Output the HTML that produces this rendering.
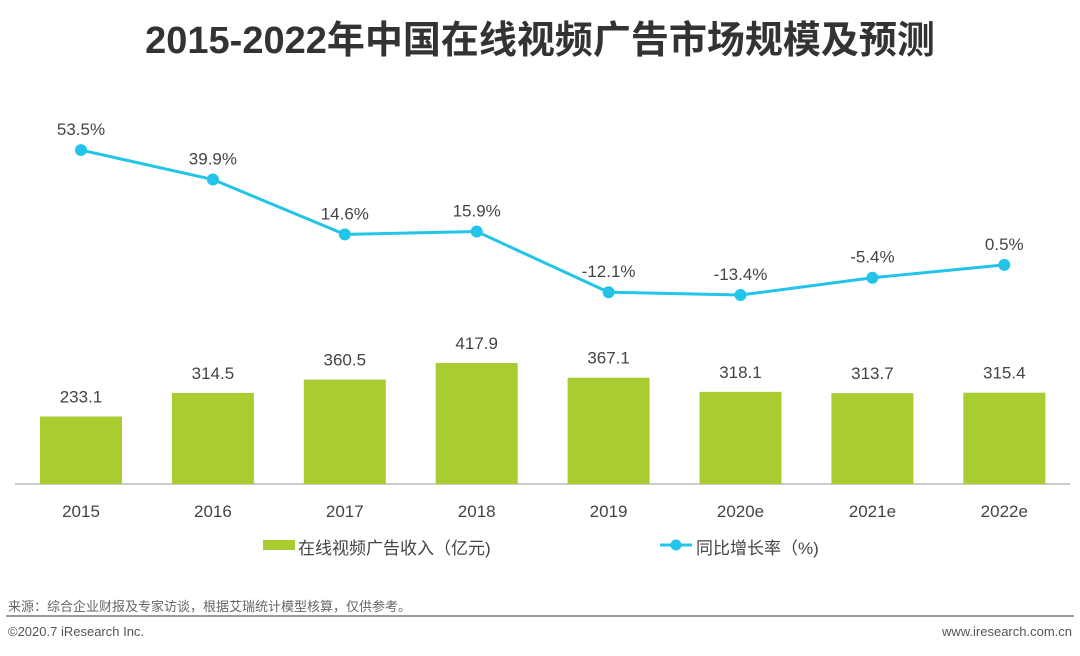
<!DOCTYPE html>
<html><head><meta charset="utf-8">
<style>
body{margin:0;background:#fff;width:1080px;height:651px;overflow:hidden;font-family:"Liberation Sans","Noto Sans CJK SC",sans-serif;}
</style></head><body>
<svg id="c" width="1080" height="651" xmlns="http://www.w3.org/2000/svg" font-family="Liberation Sans, Noto Sans CJK SC, sans-serif">
<text x="540" y="53" text-anchor="middle" font-size="38" font-weight="bold" fill="#333">2015-2022年中国在线视频广告市场规模及预测</text>
<line x1="15" y1="484" x2="1070" y2="484" stroke="#bbb" stroke-width="1.5"/>
<g id="bars"></g><g id="line"></g><g id="xt"></g>
<g>
<rect x="263" y="540" width="32" height="10" fill="#aacc33"/>
<text x="298" y="554" font-size="17" fill="#444">在线视频广告收入（亿元)</text></g>
<g>
<line x1="660" y1="545" x2="692" y2="545" stroke="#22c4e8" stroke-width="3"/>
<circle cx="676" cy="545" r="5.5" fill="#22c4e8"/>
<text x="696" y="554" font-size="17" fill="#444">同比增长率（%)</text></g>
<text x="8" y="611" font-size="13" fill="#666">来源：综合企业财报及专家访谈，根据艾瑞统计模型核算，仅供参考。</text>
<line x1="6" y1="616" x2="1074" y2="616" stroke="#999" stroke-width="2"/>
<text x="8" y="636" font-size="13" fill="#555">©2020.7 iResearch Inc.</text>
<text x="1072" y="636" text-anchor="end" font-size="13" fill="#555">www.iresearch.com.cn</text>
</svg>
<script>
const categories=["2015","2016","2017","2018","2019","2020e","2021e","2022e"];
const revenue=[233.1,314.5,360.5,417.9,367.1,318.1,313.7,315.4];
const growth=[53.5,39.9,14.6,15.9,-12.1,-13.4,-5.4,0.5];
const NS="http://www.w3.org/2000/svg";
const xc=i=>81+i*131.9;
const yb=v=>484-v*0.2896;
const yl=v=>266-v*2.167;
function mk(t,a,p){const e=document.createElementNS(NS,t);for(const k in a)e.setAttribute(k,a[k]);document.getElementById(p).appendChild(e);return e;}
categories.forEach((c,i)=>{
 const r=mk('rect',{x:xc(i)-41,y:yb(revenue[i]),width:82,height:484-yb(revenue[i]),fill:'#aacc33'},'bars');
 
 
 const t=mk('text',{x:xc(i),y:yb(revenue[i])-14,'text-anchor':'middle','font-size':17,fill:'#444'},'bars');
 t.textContent=revenue[i].toFixed(1);
 
 
 const x=mk('text',{x:xc(i),y:517,'text-anchor':'middle','font-size':17,fill:'#444'},'xt');
 x.textContent=c;
 
 
});
const pl=mk('polyline',{points:growth.map((v,i)=>xc(i)+','+yl(v)).join(' '),fill:'none',stroke:'#22c4e8','stroke-width':3},'line');


growth.forEach((v,i)=>{
 const p=mk('circle',{cx:xc(i),cy:yl(v),r:6,fill:'#22c4e8'},'line');
 
 
 const t=mk('text',{x:xc(i),y:yl(v)-15,'text-anchor':'middle','font-size':17,fill:'#444'},'line');
 t.textContent=v.toFixed(1)+'%';
 
 
});
</script>
</body></html>
